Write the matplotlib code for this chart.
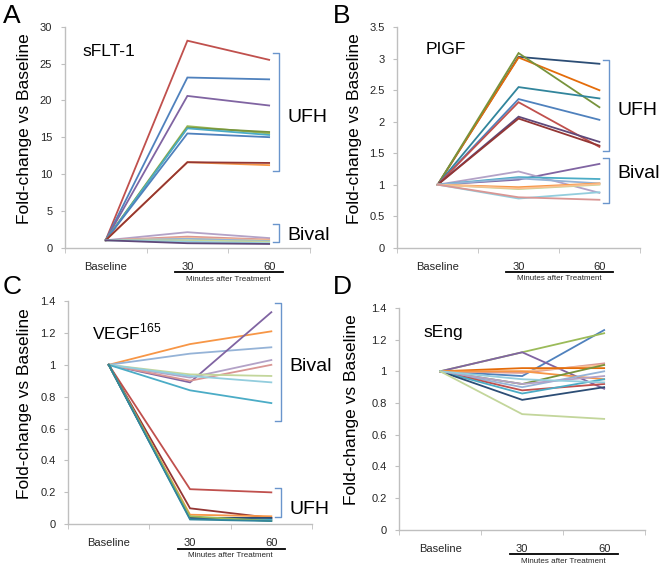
"""4-panel fold-change vs baseline (sFLT-1, PIGF, VEGF165, sEng) — UFH vs Bival."""
import matplotlib
matplotlib.use("Agg")
import matplotlib.pyplot as plt  # noqa: E402
from matplotlib.transforms import blended_transform_factory  # noqa: E402

plt.rcParams["font.family"] = ["Liberation Sans", "DejaVu Sans"]

CATS = ["Baseline", "30", "60"]

# excel-ish palette
BLUE, RED, GREEN, PURPLE, AQUA, ORANGE = "#4F81BD", "#C0504D", "#9BBB59", "#8064A2", "#4BACC6", "#F79646"
NAVY, DRED, OLIVE, DPURP, DAQUA, DORNG = "#2C4D75", "#943634", "#77933C", "#5F497A", "#31859C", "#E46C0A"
LBLUE, LRED, LGREEN, LPURP, LAQUA, LORNG = "#95B3D7", "#D99694", "#C3D69B", "#B3A2C7", "#93CDDD", "#FAC090"

# A: sFLT-1
a_t30 = [28.1, 23.1, 20.6, 16.5, 16.3, 16.2, 15.5, 11.6, 11.6, 2.1, 1.5, 1.3, 1.2, 1.0, 0.8, 0.6]
a_t60 = [25.5, 22.85, 19.3, 15.5, 15.7, 15.3, 15.0, 11.2, 11.5, 1.3, 1.1, 1.0, 0.9, 0.8, 0.6, 0.5]
a_col = [RED, BLUE, PURPLE, GREEN, OLIVE, AQUA, BLUE, ORANGE, DRED,
         LPURP, LRED, LORNG, LBLUE, LGREEN, LAQUA, DPURP]

# B: PIGF
b_t30 = [3.03, 3.02, 3.09, 2.55, 2.36, 2.31, 2.08, 2.05,
         1.08, 1.21, 1.12, 1.10, 0.96, 0.93, 0.94, 0.78, 0.80]
b_t60 = [2.92, 2.50, 2.23, 2.37, 2.03, 1.60, 1.68, 1.62,
         1.33, 0.87, 1.09, 1.02, 1.02, 1.00, 1.01, 0.88, 0.76]
b_col = [NAVY, DORNG, OLIVE, DAQUA, BLUE, RED, DPURP, DRED,
         PURPLE, LPURP, AQUA, LBLUE, ORANGE, LGREEN, LORNG, LAQUA, LRED]

# C: VEGF165
c_t30 = [1.13, 1.07, 0.89, 0.92, 0.90, 0.94, 0.93, 0.84,
         0.22, 0.10, 0.06, 0.04, 0.035, 0.04, 0.05, 0.03]
c_t60 = [1.21, 1.11, 1.33, 1.03, 1.00, 0.93, 0.89, 0.76,
         0.20, 0.04, 0.05, 0.03, 0.03, 0.04, 0.02, 0.02]
c_col = [ORANGE, LBLUE, PURPLE, LPURP, LRED, LGREEN, LAQUA, AQUA,
         RED, DRED, ORANGE, BLUE, AQUA, NAVY, GREEN, DAQUA]

# D: sEng
d_t30 = [0.97, 1.12, 1.12, 0.99, 1.00, 1.02, 1.00, 0.92, 0.90, 0.88, 0.86, 0.82, 0.92, 0.95, 0.73]
d_t60 = [1.26, 1.24, 0.89, 1.05, 1.04, 1.02, 0.95, 1.04, 1.00, 0.92, 0.95, 0.90, 0.97, 0.93, 0.70]
d_col = [BLUE, GREEN, PURPLE, LRED, LORNG, DORNG, ORANGE, OLIVE, LBLUE, RED, AQUA, NAVY,
         LPURP, LAQUA, LGREEN]

# brackets: (lo, hi, label, text_y)
a_br = [(10.4, 26.4, "UFH", 17.7), (0.7, 3.2, "Bival", 1.7)]
b_br = [(1.53, 2.98, "UFH", 2.18), (0.71, 1.42, "Bival", 1.17)]
c_br = [(0.65, 1.39, "Bival", 0.99), (0.046, 0.23, "UFH", 0.09)]
d_br = []

BR_COL = "#6A95CC"
GRAY = "#BFBFBF"


def panel(ax, t30, t60, cols, ymax, ystep, name, name_xy, brackets, ylab_x):
    x = range(len(CATS))
    for v30, v60, c in zip(t30, t60, cols):
        ax.plot(x, [1.0, v30, v60], color=c, lw=1.3, solid_joinstyle="miter")
    ax.set_xlim(-0.5, 2.5)
    ax.set_ylim(0, ymax)
    ticks = [i * ystep for i in range(int(round(ymax / ystep)) + 1)]
    ax.set_yticks(ticks)
    ax.set_yticklabels([f"{t:g}" for t in ticks])
    ax.set_xticks(list(x))
    ax.set_xticklabels(CATS)
    ax.set_xticks([-0.5, 0.5, 1.5, 2.5], minor=True)
    ax.tick_params(axis="x", which="major", length=0, pad=10, labelsize=8, labelcolor="#262626")
    ax.tick_params(axis="x", which="minor", length=3.5, color=GRAY, direction="out")
    ax.tick_params(axis="y", length=3, color=GRAY, direction="out", pad=6,
                   labelsize=8, labelcolor="#262626")
    for s in ("top", "right"):
        ax.spines[s].set_visible(False)
    for s in ("left", "bottom"):
        ax.spines[s].set_color(GRAY)
        ax.spines[s].set_linewidth(1.0)
    ax.set_ylabel("Fold-change vs Baseline", fontsize=12.5)
    ax.yaxis.set_label_coords(ylab_x, 0.54)
    ax.text(name_xy[0], name_xy[1], name, transform=ax.transAxes, fontsize=12.5,
            ha="left", va="center")
    for lo, hi, lab, ty in brackets:
        x0, x1 = 2.05, 2.12
        ax.plot([x0, x1, x1, x0], [hi, hi, lo, lo], color=BR_COL, lw=1.0, clip_on=False)
        ax.text(2.22, ty, lab, fontsize=14, ha="left", va="center")
    tr = blended_transform_factory(ax.transData, ax.transAxes)
    ax.plot([0.85, 2.17], [-0.109, -0.109], color="black", lw=1.3, transform=tr, clip_on=False)
    ax.text(1.5, -0.142, "Minutes after Treatment", transform=tr, fontsize=5.8,
            ha="center", va="center", color="#262626")


fig = plt.figure(figsize=(6.61, 5.68), dpi=100)
axA = fig.add_axes([0.098, 0.564, 0.371, 0.389])
axB = fig.add_axes([0.601, 0.564, 0.367, 0.388])
axC = fig.add_axes([0.103, 0.077, 0.369, 0.393])
axD = fig.add_axes([0.604, 0.067, 0.372, 0.391])

panel(axA, a_t30, a_t60, a_col, 30, 5, "sFLT-1", (0.073, 0.886), a_br, -0.135)
panel(axB, b_t30, b_t60, b_col, 3.5, 0.5, "PIGF", (0.115, 0.897), b_br, -0.144)
panel(axC, c_t30, c_t60, c_col, 1.4, 0.2, r"VEGF$^{\mathregular{165}}$", (0.098, 0.862), c_br, -0.148)
panel(axD, d_t30, d_t60, d_col, 1.4, 0.2, "sEng", (0.098, 0.89), d_br, -0.163)

for lab, x, y in [("A", 0.004, 0.972), ("B", 0.503, 0.972), ("C", 0.004, 0.495), ("D", 0.503, 0.495)]:
    fig.text(x, y, lab, fontsize=19, ha="left", va="center")

fig.savefig("out.png", dpi=100, facecolor="white")
